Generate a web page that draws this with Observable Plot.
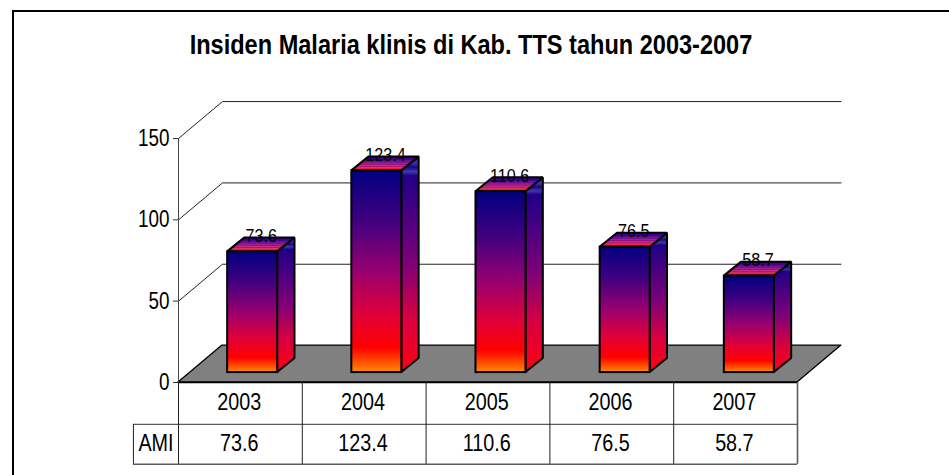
<!DOCTYPE html>
<html>
<head>
<meta charset="utf-8">
<script src="https://cdn.jsdelivr.net/npm/d3@7"></script>
<script src="https://cdn.jsdelivr.net/npm/@observablehq/plot@0.6"></script>
<style>
  html, body { margin: 0; padding: 0; background: #fff; overflow: hidden; width: 949px; height: 475px; }
  body { position: relative; font-family: "Liberation Sans", Arial, sans-serif; color: #000; }
  #frame { position: absolute; left: 12px; top: 10px; width: 960px; height: 500px; border-left: 2px solid #000; border-top: 2px solid #000; }
  #head { position: relative; height: 90px; }
  #title { position: absolute; left: 0; width: 942px; top: 29px; margin: 0; text-align: center; font-size: 27px; line-height: 32px; font-weight: bold; transform: scaleX(0.872); transform-origin: 471px 0; white-space: nowrap; }
  svg { display: block; }
</style>
</head>
<body>
<div id="frame"></div>
<div id="head"><h1 id="title">Insiden Malaria klinis di Kab. TTS tahun 2003-2007</h1></div>
<div id="chart"></div>
<script>
const years = ["2003", "2004", "2005", "2006", "2007"];
const ami = [73.6, 123.4, 110.6, 76.5, 58.7];
const yTicks = [0, 50, 100, 150];
const wallLevels = [50, 100, 150];
const rowName = "AMI";

// 3-D projection constants, in scale units
const wallDX = 0.355, wallDY = 22.7;
const barDX = 0.14, barDY = 8.6;
const barLift = 6.7, barStart = 0.397, barWidth = 0.404, barStep = 1.003;
const row1 = -25.8, row2 = -50.3, headLeft = -0.364;

const bars = years.map((year, i) => ({
  year, value: ami[i],
  x1: i * barStep + barStart, x2: i * barStep + barStart + barWidth,
  y1: barLift - 0.6, y2: ami[i] + barLift
}));
const sidePts = bars.flatMap(b => [
  {year: b.year, x: b.x2, y1: b.y1, y2: b.y2},
  {year: b.year, x: b.x2 + barDX, y1: b.y1 + barDY, y2: b.y2 + barDY}
]);
const topPts = bars.flatMap(b => [
  {year: b.year, y: b.y2, x1: b.x1, x2: b.x2},
  {year: b.year, y: b.y2 + barDY, x1: b.x1 + barDX, x2: b.x2 + barDX}
]);
const floorPts = [
  {y: 0, x1: 0, x2: 5},
  {y: wallDY, x1: wallDX, x2: 5 + wallDX}
];
const ink = "#000";
const tableGrey = "#5a5a5a";

const plot = Plot.plot({
  width: 949, height: 385,
  marginTop: 48, marginBottom: 93, marginLeft: 178, marginRight: 152,
  x: {domain: [0, 5], axis: null},
  y: {domain: [0, 150]},
  style: {fontFamily: "'Liberation Sans', Arial, sans-serif", color: "#000", background: "transparent", overflow: "visible"},
  marks: [
    // back wall
    Plot.link(wallLevels, {x1: 0, x2: wallDX, y1: d => d, y2: d => d + wallDY, stroke: "#222", strokeWidth: 1}),
    Plot.link(wallLevels, {x1: wallDX, x2: 5 + wallDX, y1: d => d + wallDY, y2: d => d + wallDY, stroke: "#222", strokeWidth: 1}),
    // floor
    Plot.areaX(floorPts, {y: "y", x1: "x1", x2: "x2", fill: "#808080", stroke: ink, strokeWidth: 1.3}),
    // axis
    Plot.ruleX([0], {y1: 0, y2: 150, stroke: "#444", strokeWidth: 1}),
    Plot.axisY({ticks: yTicks, tickSize: 5, tickPadding: 4, label: null, fontSize: 23, tickFormat: d => String(d), stroke: "#333"}),
    // bars
    Plot.areaY(sidePts, {x: "x", y1: "y1", y2: "y2", z: "year", fill: "url(#sideGrad)", stroke: ink, strokeWidth: 2, strokeLinejoin: "miter"}),
    Plot.areaX(topPts, {y: "y", x1: "x1", x2: "x2", z: "year", fill: "url(#topGrad)", stroke: ink, strokeWidth: 2, strokeLinejoin: "miter"}),
    Plot.rect(bars, {x1: "x1", x2: "x2", y1: "y1", y2: "y2", fill: "url(#frontGrad)", stroke: ink, strokeWidth: 2}),
    // value labels
    Plot.text(bars, {x: d => d.x1 + (barWidth + barDX) / 2, y: d => d.y2 + barDY + 1.2, text: d => d.value.toFixed(1), fontSize: 19, fill: "#000", textAnchor: "middle", lineAnchor: "middle"}),
    // data table
    Plot.ruleY([0], {x1: 0, x2: 5, stroke: ink, strokeWidth: 1.3}),
    Plot.ruleY([row1], {x1: headLeft, x2: 5, stroke: tableGrey, strokeWidth: 1.2}),
    Plot.ruleY([row2], {x1: headLeft, x2: 5, stroke: tableGrey, strokeWidth: 1.6}),
    Plot.ruleX([0, 1, 2, 3, 4], {y1: 0, y2: row2, stroke: "#222", strokeWidth: 1}),
    Plot.ruleX([5], {y1: 0, y2: row2, stroke: tableGrey, strokeWidth: 1.6}),
    Plot.ruleX([headLeft], {y1: row1, y2: row2, stroke: "#222", strokeWidth: 1}),
    Plot.text(years, {x: (d, i) => i + 0.49, y: row1 / 2 + 0.7, text: d => d, fontSize: 23, fill: "#000", textAnchor: "middle", lineAnchor: "middle"}),
    Plot.text(ami, {x: (d, i) => i + 0.49, y: (row1 + row2) / 2 + 0.2, text: d => d.toFixed(1), fontSize: 23, fill: "#000", textAnchor: "middle", lineAnchor: "middle"}),
    Plot.text([rowName], {x: headLeft / 2, y: (row1 + row2) / 2 + 0.2, text: d => d, fontSize: 23, fill: "#000", textAnchor: "middle", lineAnchor: "middle"})
  ]
});

// gradients
function addGrad(svg, id, stops) {
  let defs = svg.select("defs");
  if (defs.empty()) defs = svg.insert("defs", ":first-child");
  const g = defs.append("linearGradient").attr("id", id).attr("x1", 0).attr("x2", 0).attr("y1", 0).attr("y2", 1);
  stops.forEach(([o, c]) => g.append("stop").attr("offset", o).attr("stop-color", c));
}
const svgSel = d3.select(plot);
addGrad(svgSel, "frontGrad", [[0, "#000080"], [0.25, "#400080"], [0.5, "#980070"], [0.72, "#e00038"], [0.88, "#ff0000"], [0.95, "#ff5000"], [1, "#ff8c00"]]);
addGrad(svgSel, "sideGrad", [[0, "#200088"], [0.03, "#3a3aa8"], [0.05, "#200088"], [0.07, "#3a3aa8"], [0.09, "#200088"], [0.5, "#800078"], [0.75, "#d80040"], [1, "#ff0010"]]);
addGrad(svgSel, "topGrad", [[0, "#280090"], [0.25, "#500090"], [0.32, "#7a1a98"], [0.4, "#600a88"], [0.48, "#a02a90"], [0.56, "#881080"], [0.64, "#c83088"], [0.72, "#b81070"], [0.8, "#e83060"], [0.88, "#ff1030"], [1, "#ff2020"]]);

// narrow the stretched glyphs horizontally, keeping each anchor in place
const squeeze = {23: 0.86, 19: 0.85};
const axisSqueeze = 0.82;
plot.querySelectorAll("text").forEach(t => {
  const fs = parseFloat(t.getAttribute("font-size") || (t.parentNode.getAttribute && t.parentNode.getAttribute("font-size")));
  let k = squeeze[fs];
  if (!k) return;
  if (/^(0|50|100|150)$/.test(t.textContent)) k = axisSqueeze;
  const base = t.getAttribute("transform") || "";
  const x = t.getAttribute("x"), y = t.getAttribute("y");
  if (x != null || y != null) {
    const X = +x || 0, Y = +y || 0;
    t.setAttribute("transform", `${base} translate(${X},${Y}) scale(${k},1) translate(${-X},${-Y})`);
  } else {
    t.setAttribute("transform", `${base} scale(${k},1)`);
  }
});
document.getElementById("chart").appendChild(plot);
</script>
</body>
</html>
